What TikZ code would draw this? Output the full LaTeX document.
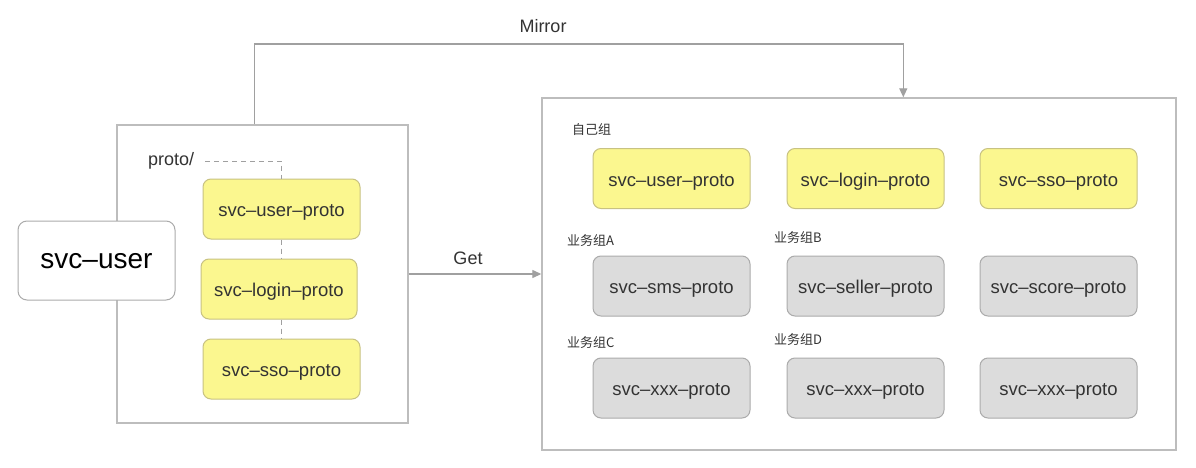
\documentclass[tikz,border=0pt]{standalone}
\usepackage{fontspec}
\setmainfont{Liberation Sans}
\newfontfamily\cjk{Noto Sans CJK SC}
\usetikzlibrary{arrows.meta}
\definecolor{txt}{HTML}{333333}
\definecolor{frame}{HTML}{BDBDBD}
\definecolor{yfill}{HTML}{FBF78F}
\definecolor{ydraw}{HTML}{C8C282}
\definecolor{gfill}{HTML}{DCDCDC}
\definecolor{gdraw}{HTML}{ABABAB}
\definecolor{lnk}{HTML}{A0A0A0}
\begin{document}
\begin{tikzpicture}[x=1pt,y=-1pt,
  container/.style={draw=frame,line width=1.4pt,fill=white,inner sep=0pt},
  mainbox/.style={draw=gdraw,line width=1pt,fill=white,rounded corners=9pt,inner sep=0pt,
     minimum width=157pt,minimum height=79pt,font=\fontsize{28}{30}\selectfont,text=black,
     text height=15pt,text depth=0pt},
  ybox/.style={draw=ydraw,line width=1pt,fill=yfill,rounded corners=8pt,inner sep=0pt,
     minimum width=157pt,minimum height=60pt,font=\fontsize{18.5}{20}\selectfont,text=txt,
     text height=15pt,text depth=0pt},
  gbox/.style={draw=gdraw,line width=1pt,fill=gfill,rounded corners=8pt,inner sep=0pt,
     minimum width=157pt,minimum height=60pt,font=\fontsize{18.5}{20}\selectfont,text=txt,
     text height=15pt,text depth=0pt},
  grp/.style={anchor=west,inner sep=0pt,font=\cjk\fontsize{13}{15}\selectfont,text=txt},
  lbl/.style={inner sep=0pt,font=\fontsize{18}{20}\selectfont,text=txt},
  arr/.style={draw=lnk,line width=1.3pt,-{Triangle[length=9pt,width=8pt]}},
  dsh/.style={draw=lnk,line width=1pt,dash pattern=on 5pt off 4pt}
]
\useasboundingbox[fill=white] (0,0) rectangle (1196,468);

% left container
\node[container,minimum width=291pt,minimum height=298pt] (lc) at (262.5,274) {};
\node[mainbox] (svcuser) at (96.5,260.5) {svc–user};
\node[lbl,anchor=west] (proto) at (148,161) {proto/};
\node[ybox] (lu) at (281.5,209) {svc–user–proto};
\node[ybox,minimum width=156pt] (ll) at (279,289) {svc–login–proto};
\node[ybox] (ls) at (281.5,369) {svc–sso–proto};

\draw[dsh] ([xshift=11pt]proto.east) -| (lu.north);
\draw[dsh] (lu.south) -- (lu.south |- ll.north);
\draw[dsh] (lu.south |- ll.south) -- (lu.south |- ls.north);

% right container
\node[container,minimum width=634pt,minimum height=352pt] (rc) at (859,274) {};

\node[grp] (g0) at (572,130) {自己组};
\node[grp] (ga) at (567,241) {业务组A};
\node[grp] (gb) at (774,238) {业务组B};
\node[grp] (gc) at (567,343) {业务组C};
\node[grp] (gd) at (774,340) {业务组D};

\node[ybox] (r11) at (671.5,178.5) {svc–user–proto};
\node[ybox] (r12) at (865.5,178.5) {svc–login–proto};
\node[ybox] (r13) at (1058.5,178.5) {svc–sso–proto};
\node[gbox] (r21) at (671.5,286) {svc–sms–proto};
\node[gbox] (r22) at (865.5,286) {svc–seller–proto};
\node[gbox] (r23) at (1058.5,286) {svc–score–proto};
\node[gbox] (r31) at (671.5,388) {svc–xxx–proto};
\node[gbox] (r32) at (865.5,388) {svc–xxx–proto};
\node[gbox] (r33) at (1058.5,388) {svc–xxx–proto};

% connectors
\coordinate (mt) at (580,44);
\draw[arr] ([xshift=138pt]lc.north west) |- (mt) -| ([xshift=362pt]rc.north west);
\node[lbl] (mirror) at (543,26) {Mirror};

\draw[arr] (lc.east) -- (rc.west |- lc.east);
\node[lbl] (get) at (468,258) {Get};
\end{tikzpicture}
\end{document}
